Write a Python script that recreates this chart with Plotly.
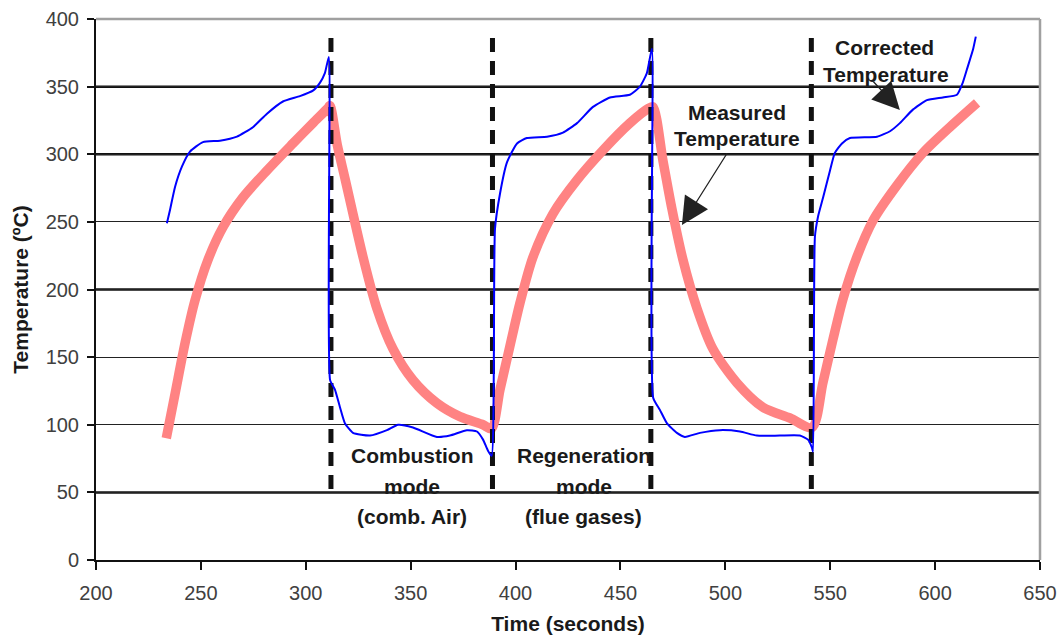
import plotly.graph_objects as go

# ---------------- data ----------------
measured_t = [233.5, 237.7, 242.4, 247.2, 253.4, 260.5, 270, 281.5, 293.9, 303.4, 310.5, 311.5,
              315, 318.7, 322.5, 327.3, 333.9, 341.6, 351.1, 362.5, 373.5, 384.5, 388.5,
              392.6, 397.3, 402.1, 408.3, 417.8, 429.3, 441.7, 454.5, 463.5, 465.5,
              470.3, 474.5, 479.8, 486.5, 494.1, 505.5, 517.9, 530.8, 541.3,
              546.5, 551.3, 556.1, 562.7, 570.4, 581.8, 594.2, 607, 620]
measured_T = [90, 123, 160, 192, 222, 246, 268, 288, 308, 323, 334, 336,
              307, 282, 256, 224, 186, 156, 133, 116, 106, 100, 97,
              126, 158, 190, 224, 256, 281, 303, 323, 334, 335,
              295, 260, 222, 186, 156, 131, 113, 105, 98,
              131, 163, 193, 224, 251, 277, 301, 320, 338]

corrected_t = [233.8, 235.3, 237.7, 241, 244.8, 251, 259.1, 267.2, 274.8, 281.5, 289.1, 297.2,
               303.4, 306.8, 309.1, 311, 311.6, 313.9, 316.3, 318.7, 322.5, 330.6, 338.7, 344,
               351.1, 362.5, 368.7, 376.8, 381.6, 384.5, 386.8, 388.6, 390.2, 392.6, 395.9,
               400.7, 405.4, 415, 422.6, 429.3, 436.9, 445, 454.5, 459.3, 462.6, 465,
               465.6, 468.8, 472.2, 476.9, 480.7, 487.9, 497.4, 507, 515, 526, 535.5, 539.4,
               541.3, 541.8, 542.7, 544.2, 546.6, 549.9, 552.2, 555.6, 559.4, 572.3, 578.5,
               583.2, 589.4, 596.1, 603.7, 610.4, 613.2, 615.6, 618, 619.4]
corrected_T = [249, 259, 276, 291, 302, 309, 310, 313, 320, 330, 339, 343,
               347, 353, 360, 372, 133, 126, 113, 101, 94, 92, 96, 100,
               98, 91, 92, 96, 95, 89, 81, 77, 245, 271, 294,
               308, 312, 313, 316, 323, 335, 342, 344, 350, 360, 378,
               120, 111, 101, 94, 91, 94, 96, 95, 92, 92, 92, 89,
               83, 80, 239, 254, 268, 288, 301, 308, 312, 313, 317,
               323, 333, 340, 342, 344, 353, 365, 377, 387]

switch_times = [312, 389, 464.5, 541]
switch_low, switch_high = 50, 386

x_ticks = [200, 250, 300, 350, 400, 450, 500, 550, 600, 650]
y_ticks = [0, 50, 100, 150, 200, 250, 300, 350, 400]
heavy_grid = [50, 200, 300, 350]

FONT = "Arial, 'Liberation Sans', sans-serif"

fig = go.Figure()

# measured temperature (thick salmon)
fig.add_trace(go.Scatter(x=measured_t, y=measured_T, mode="lines",
                         line=dict(color="#FF8383", width=9.5, shape="spline", smoothing=0.8),
                         hoverinfo="skip", showlegend=False))

# dashed switching lines
dx, dy = [], []
for t in switch_times:
    dx += [t, t, None]
    dy += [switch_high, switch_low, None]
fig.add_trace(go.Scatter(x=dx, y=dy, mode="lines",
                         line=dict(color="#111111", width=5, dash="14px,9px"),
                         hoverinfo="skip", showlegend=False))

# corrected temperature (thin blue)
fig.add_trace(go.Scatter(x=corrected_t, y=corrected_T, mode="lines",
                         line=dict(color="#0000FF", width=2, shape="spline", smoothing=0.5),
                         hoverinfo="skip", showlegend=False))

shapes = []
for g in heavy_grid:
    shapes.append(dict(type="line", xref="paper", x0=0, x1=1, yref="y", y0=g, y1=g,
                       line=dict(color="#111111", width=2.5), layer="below"))
# grey top/right frame
shapes.append(dict(type="line", xref="paper", x0=0, x1=1, yref="paper", y0=1, y1=1,
                   line=dict(color="#a0a0a0", width=2.5), layer="above"))
shapes.append(dict(type="line", xref="paper", x0=1, x1=1, yref="paper", y0=0, y1=1,
                   line=dict(color="#a0a0a0", width=2.5), layer="above"))

ann_font = dict(family=FONT, size=21, color="#1a1a1a")
texts = [
    ("Combustion", 350.6, 76.9), ("mode", 350.6, 54.7), ("(comb. Air)", 350.6, 32.5),
    ("Regeneration", 432.6, 76.9), ("mode", 432.6, 54.7), ("(flue gases)", 432.6, 32.5),
    ("Measured", 505.5, 331.2), ("Temperature", 505.5, 311.3),
    ("Corrected", 576.1, 379.3), ("Temperature", 576.6, 358.6),
]
annotations = []
for txt, x, y in texts:
    annotations.append(dict(text="<b>" + txt + "</b>", x=x, y=y, xref="x", yref="y",
                            showarrow=False, font=ann_font, xanchor="center", yanchor="middle"))
# arrows
annotations.append(dict(text="", x=479.3, y=247.7, xref="x", yref="y", ax=46, ay=-73,
                        showarrow=True, arrowhead=2, arrowsize=4.2, arrowwidth=1.3,
                        arrowcolor="#222222"))
annotations.append(dict(text="", x=583.2, y=332.7, xref="x", yref="y", ax=-28, ay=-30,
                        showarrow=True, arrowhead=2, arrowsize=4.2, arrowwidth=1.3,
                        arrowcolor="#222222"))

fig.update_layout(
    width=1060, height=635, autosize=False,
    margin=dict(l=96, r=20, t=19, b=75),
    paper_bgcolor="white", plot_bgcolor="white",
    font=dict(family=FONT, color="#404040"),
    shapes=shapes, annotations=annotations,
    xaxis=dict(range=[200, 650], tickvals=x_ticks, ticktext=[str(v) for v in x_ticks],
               automargin=False,
               showgrid=False, zeroline=False, showline=True, linecolor="#111111", linewidth=2,
               ticks="outside", ticklen=8, tickwidth=2, tickcolor="#111111",
               ticklabelstandoff=6,
               tickfont=dict(size=20, color="#404040", family=FONT),
               title=dict(text="<b>Time (seconds)</b>", font=dict(size=21, color="#1a1a1a", family=FONT),
                          standoff=15)),
    yaxis=dict(range=[0, 400], tickvals=y_ticks, ticktext=[str(v) for v in y_ticks],
               automargin=False,
               showgrid=True, gridcolor="#222222", gridwidth=1, zeroline=False,
               showline=True, linecolor="#111111", linewidth=2,
               ticks="outside", ticklen=7, tickwidth=2, tickcolor="#111111",
               ticklabelstandoff=4,
               tickfont=dict(size=20, color="#404040", family=FONT),
               title=dict(text="<b>Temperature (ºC)</b>", font=dict(size=21, color="#1a1a1a", family=FONT),
                          standoff=11)),
)

fig.write_html("out.html")
